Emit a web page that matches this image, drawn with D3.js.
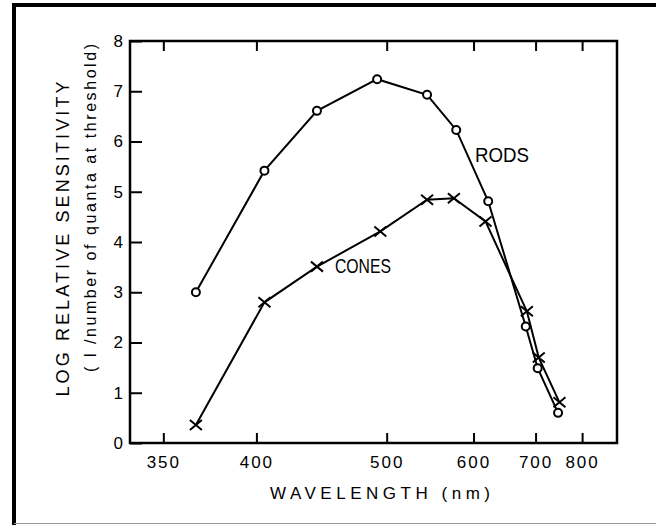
<!DOCTYPE html>
<html>
<head>
<meta charset="utf-8">
<script src="https://cdn.jsdelivr.net/npm/d3@7"></script>
<style>
  body { margin: 0; background: #fff; }
  text { font-family: "Liberation Sans", Arial, sans-serif; fill: #000; }
</style>
</head>
<body>
<div class="chart"></div>
<script>
// values
const rodWavelengths  = [366, 405, 441, 491, 542, 577, 621, 682, 704, 745];
const rodValues       = [3.0, 5.42, 6.61, 7.24, 6.93, 6.23, 4.81, 2.32, 1.49, 0.60];
const coneWavelengths = [366, 405, 441, 494, 542, 574, 617, 684, 706, 748];
const coneValues      = [0.36, 2.80, 3.51, 4.21, 4.84, 4.87, 4.41, 2.62, 1.70, 0.81];
const xTicks = [350, 400, 500, 600, 700, 800];
const yTicks = [0, 1, 2, 3, 4, 5, 6, 7, 8];

const margin = {
        top: 41,
        right: 39,
        bottom: 82,
        left: 130
      },
      width = 656 - margin.left - margin.right,
      height = 525 - margin.top - margin.bottom;

let root = d3.select(".chart").append("svg")
            .attr("width", 656)
            .attr("height", 525);

// outer frame of the scanned figure
root.append("line").attr("x1", 12).attr("x2", 656).attr("y1", 5).attr("y2", 5)
    .attr("stroke", "#000").attr("stroke-width", 4);
root.append("line").attr("x1", 14).attr("x2", 14).attr("y1", 3).attr("y2", 525)
    .attr("stroke", "#000").attr("stroke-width", 4);
root.append("line").attr("x1", 14).attr("x2", 656).attr("y1", 523.5).attr("y2", 523.5)
    .attr("stroke", "#999").attr("stroke-width", 1);

let svg = root.append("g")
            .attr("transform", "translate(" + margin.left + "," + margin.top + ")");

// x axis is linear in wavenumber (1/wavelength)
let x = d3.scalePow().exponent(-1).domain([335, 896]).range([0, width]);
let y = d3.scaleLinear().domain([0, 8]).range([height, 0]);

let xAxis = svg.append("g")
    .attr("transform", "translate(0," + height + ")")
    .call(d3.axisBottom(x).tickValues(xTicks).tickSizeInner(-10).tickSizeOuter(0).tickPadding(13));
xAxis.selectAll("text").style("font-size", "17px").attr("letter-spacing", 2);

svg.append("g")
    .call(d3.axisTop(x).tickValues(xTicks).tickSizeInner(-10).tickSizeOuter(0).tickFormat(""));

let yAxis = svg.append("g")
    .call(d3.axisLeft(y).tickValues(yTicks).tickSizeInner(-12).tickSizeOuter(0).tickPadding(7));
yAxis.selectAll("text").style("font-size", "17px");

svg.selectAll(".domain").remove();
svg.selectAll(".tick line").attr("stroke", "#000").attr("stroke-width", 2);

svg.append("rect")
    .attr("width", width)
    .attr("height", height)
    .attr("fill", "none")
    .attr("stroke", "#000")
    .attr("stroke-width", 2.5);

let line = d3.line()
    .x((d) => x(d[0]))
    .y((d) => y(d[1]));

let rods = rodWavelengths.map((w, i) => [w, rodValues[i]]);
let cones = coneWavelengths.map((w, i) => [w, coneValues[i]]);

svg.append("path")
    .datum(rods)
    .attr("fill", "none")
    .attr("stroke", "#000")
    .attr("stroke-width", 2)
    .attr("d", line);

svg.append("path")
    .datum(cones)
    .attr("fill", "none")
    .attr("stroke", "#000")
    .attr("stroke-width", 2)
    .attr("d", line);

svg.selectAll(".rod")
    .data(rods)
    .enter().append("circle")
      .attr("class", "rod")
      .attr("cx", (d) => x(d[0]))
      .attr("cy", (d) => y(d[1]))
      .attr("r", 4)
      .attr("fill", "#fff")
      .attr("stroke", "#000")
      .attr("stroke-width", 2);

svg.selectAll(".cone")
    .data(cones)
    .enter().append("path")
      .attr("class", "cone")
      .attr("transform", (d) => "translate(" + x(d[0]) + "," + y(d[1]) + ")")
      .attr("d", "M-6,-5L6,5M-6,5L6,-5")
      .attr("stroke", "#000")
      .attr("stroke-width", 2);

// curve labels
svg.append("text")
    .attr("x", 345)
    .attr("y", 121)
    .attr("textLength", 54)
    .attr("lengthAdjust", "spacingAndGlyphs")
    .style("font-size", "20px")
    .text("RODS");

svg.append("text")
    .attr("x", 205)
    .attr("y", 232)
    .attr("textLength", 56)
    .attr("lengthAdjust", "spacingAndGlyphs")
    .style("font-size", "20px")
    .text("CONES");

// axis titles
root.append("text")
    .attr("transform", "translate(69,239) rotate(-90)")
    .attr("text-anchor", "middle")
    .attr("textLength", 315)
    .attr("lengthAdjust", "spacing")
    .style("font-size", "18px")
    .text("LOG RELATIVE SENSITIVITY");

root.append("text")
    .attr("transform", "translate(96,208) rotate(-90)")
    .attr("text-anchor", "middle")
    .attr("textLength", 328)
    .attr("lengthAdjust", "spacing")
    .style("font-size", "16px")
    .text("( l /number of quanta at threshold)");

root.append("text")
    .attr("x", 380)
    .attr("y", 499)
    .attr("text-anchor", "middle")
    .attr("textLength", 220)
    .attr("lengthAdjust", "spacing")
    .style("font-size", "17px")
    .text("WAVELENGTH  (nm)");
</script>
</body>
</html>
